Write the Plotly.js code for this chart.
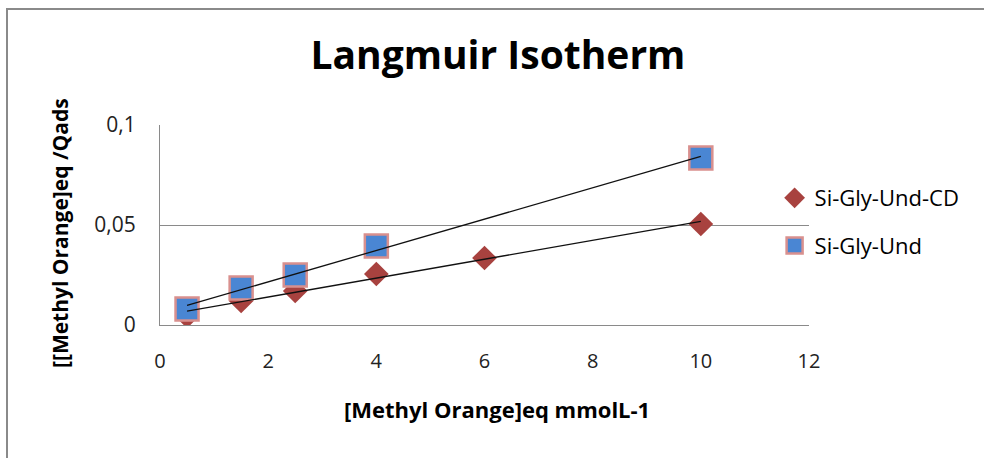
<!DOCTYPE html>
<html>
<head>
<meta charset="utf-8">
<script src="https://cdn.plot.ly/plotly-3.0.1.min.js"></script>
<style>
  html, body { margin: 0; padding: 0; background: #fff; }
  #wrap { position: relative; width: 984px; height: 458px; overflow: hidden; }
  #chart { position: absolute; left: 0; top: 0; width: 984px; height: 458px; }
  #frame { position: absolute; left: 6px; top: 8px; width: 1000px; height: 500px;
           border-left: 2px solid #8a8a8a; border-top: 2px solid #8a8a8a; pointer-events: none; }
</style>
</head>
<body>
<div id="wrap">
  <div id="chart"></div>
  <div id="frame"></div>
</div>
<script>
// ---- data ----
const titleText = "Langmuir Isotherm";
const xTitle = "[Methyl Orange]eq mmolL-1";
const yTitle = "[[Methyl Orange]eq /Qads";

const cdName = "Si-Gly-Und-CD";
const cdX = [0.5, 1.5, 2.5, 4, 6, 10];
const cdY = [0.0045, 0.012, 0.017, 0.0255, 0.0335, 0.0505];

const undName = "Si-Gly-Und";
const undX = [0.5, 1.5, 2.5, 4, 10];
const undY = [0.008, 0.0185, 0.025, 0.0395, 0.0835];

const xTicks = [0, 2, 4, 6, 8, 10, 12];
const yTicks = [0, 0.05, 0.1];

// linear trendline (least squares) over the data extent
function trend(xs, ys) {
  const n = xs.length;
  const mx = xs.reduce((a, b) => a + b, 0) / n;
  const my = ys.reduce((a, b) => a + b, 0) / n;
  let sxy = 0, sxx = 0;
  for (let i = 0; i < n; i++) { sxy += (xs[i] - mx) * (ys[i] - my); sxx += (xs[i] - mx) ** 2; }
  const m = sxy / sxx, b = my - m * mx;
  const x0 = Math.min(...xs), x1 = Math.max(...xs);
  return { x: [x0, x1], y: [m * x0 + b, m * x1 + b] };
}
const cdT = trend(cdX, cdY);
const undT = trend(undX, undY);

const FONT = "'Open Sans', Lato, sans-serif";

const traces = [
  { x: cdX, y: cdY, name: cdName, type: "scatter", mode: "markers", legendgroup: "a",
    marker: { symbol: "diamond", size: 19, color: "#A8423F", line: { width: 0 } } },
  { x: undX, y: undY, name: undName, type: "scatter", mode: "markers", legendgroup: "b",
    marker: { symbol: "square", size: 23, color: "#4A86D3", line: { width: 2.5, color: "#D9908E" } } },
  { x: cdT.x, y: cdT.y, type: "scatter", mode: "lines", showlegend: false, hoverinfo: "skip",
    line: { color: "#111", width: 1.3 } },
  { x: undT.x, y: undT.y, type: "scatter", mode: "lines", showlegend: false, hoverinfo: "skip",
    line: { color: "#111", width: 1.3 } }
];

const layout = {
  width: 984, height: 458,
  paper_bgcolor: "#fff", plot_bgcolor: "#fff",
  separators: ",.",
  margin: { l: 160, r: 175, t: 125, b: 133 },
  font: { family: FONT, color: "#222" },
  title: { text: "<b>" + titleText + "</b>", font: { family: FONT, size: 39, color: "#000" },
           x: 0.506, xref: "container", xanchor: "center", y: 1 - 55 / 458, yref: "container", yanchor: "middle" },
  xaxis: {
    range: [0, 12], tickvals: xTicks, ticktext: xTicks.map(String),
    showgrid: false, zeroline: false, showline: true, linecolor: "#8a8a8a", linewidth: 1,
    ticks: "outside", ticklen: 18, tickcolor: "rgba(0,0,0,0)",
    tickfont: { family: FONT, size: 20, color: "#222" },
    fixedrange: true
  },
  yaxis: {
    range: [0, 0.1], tickvals: yTicks,
    showgrid: true, gridcolor: "#8a8a8a", gridwidth: 1, zeroline: false,
    showline: true, linecolor: "#8a8a8a", linewidth: 1,
    ticks: "outside", ticklen: 19, tickcolor: "rgba(0,0,0,0)",
    tickfont: { family: FONT, size: 21, color: "#222" },
    fixedrange: true
  },
  annotations: [
    { text: "<b>" + xTitle + "</b>", xref: "paper", yref: "paper",
      x: (497 - 160) / 649, y: -(409 - 325) / 200, xanchor: "center", yanchor: "middle",
      showarrow: false, font: { family: FONT, size: 22, color: "#000" } },
    { text: "<b>" + yTitle + "</b>", xref: "paper", yref: "paper", textangle: -90,
      x: (60 - 160) / 649, y: (325 - 233) / 200, xanchor: "center", yanchor: "middle",
      showarrow: false, font: { family: FONT, size: 21, color: "#000" } }
  ],
  showlegend: true,
  legend: {
    x: 0.947, xanchor: "left", y: 0.515, yanchor: "middle",
    traceorder: "grouped", tracegroupgap: 16,
    font: { family: FONT, size: 22, color: "#000" },
    bgcolor: "rgba(0,0,0,0)"
  }
};

Plotly.newPlot("chart", traces, layout, { staticPlot: true, displayModeBar: false });
</script>
</body>
</html>
